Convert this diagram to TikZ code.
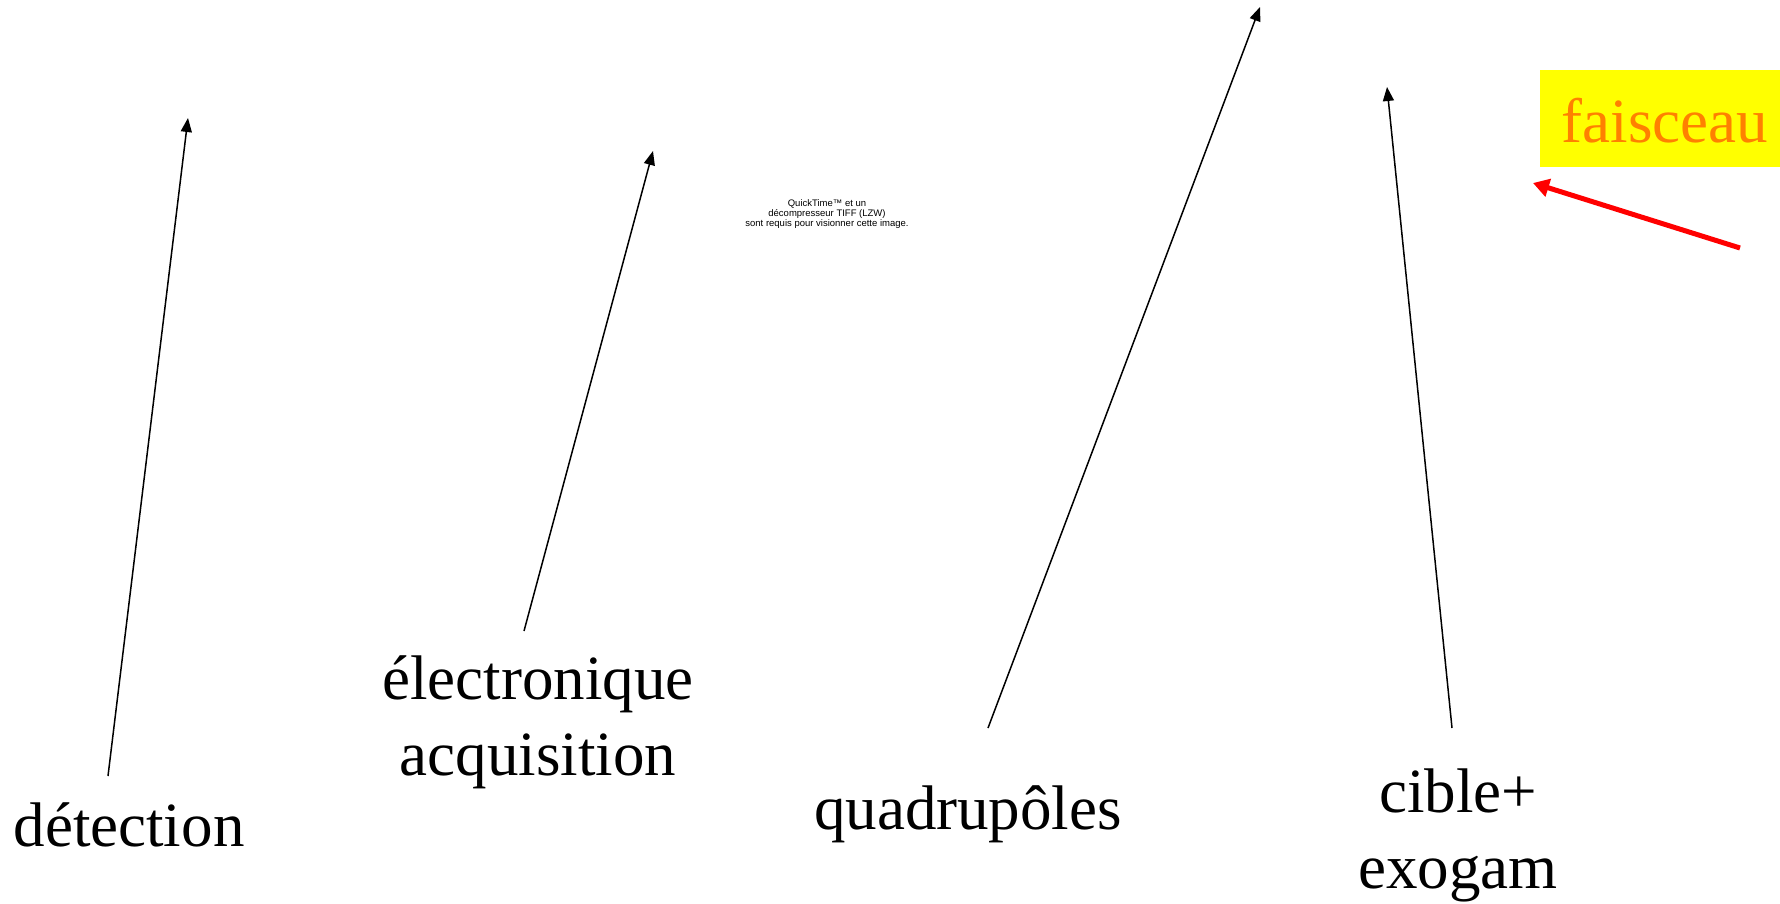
\documentclass[tikz,border=0pt]{standalone}
\usepackage{fontspec}
\setmainfont{Liberation Serif}
\newfontfamily\qtfont{Liberation Sans}
\usetikzlibrary{arrows.meta}
\definecolor{beamyellow}{RGB}{255,255,0}
\definecolor{beamorange}{RGB}{255,128,0}
\definecolor{beamred}{RGB}{255,0,0}
\tikzset{
  lbl/.style={inner sep=0pt, align=center, font=\fontsize{63}{76}\selectfont, anchor=base},
  ptr/.style={draw=black, line width=1.5pt, -{Triangle[length=14pt,width=11pt]}},
  beamptr/.style={draw=beamred, line width=5pt, -{Triangle[length=16pt,width=18pt]}},
}
\begin{document}
\begin{tikzpicture}[x=1pt,y=-1pt]
\useasboundingbox (0,0) rectangle (1780,904);
% labels
\node[lbl] (det) at (129,846) {détection};
\node[lbl] (elec) at (538,775) {électronique\\acquisition};
\node[lbl] (quad) at (968,829) {quadrupôles};
\node[lbl] (cible) at (1458,888) {cible+\\exogam};
% faisceau box
\fill[beamyellow] (1540,70) rectangle (1780,167);
\node[lbl, text=beamorange] (fais) at (1665,143) {faisceau};
% QuickTime placeholder
\node[inner sep=0pt, align=center, font=\qtfont\fontsize{9.5}{9.8}\selectfont] (qt) at (827,214)
  {QuickTime™ et un\\décompresseur TIFF (LZW)\\sont requis pour visionner cette image.};
% arrow ends
\coordinate (detS) at (108,776);   \coordinate (detT) at (188,118);
\coordinate (elecS) at (524,631);  \coordinate (elecT) at (653,151);
\coordinate (quadS) at (988,728);  \coordinate (quadT) at (1260,7);
\coordinate (cibS) at (1452,728);  \coordinate (cibT) at (1387,87);
\coordinate (beamS) at (1740,248); \coordinate (beamT) at (1533,183);
\draw[ptr] (detS) -- (detT);
\draw[ptr] (elecS) -- (elecT);
\draw[ptr] (quadS) -- (quadT);
\draw[ptr] (cibS) -- (cibT);
\draw[beamptr] (beamS) -- (beamT);
\end{tikzpicture}
\end{document}
